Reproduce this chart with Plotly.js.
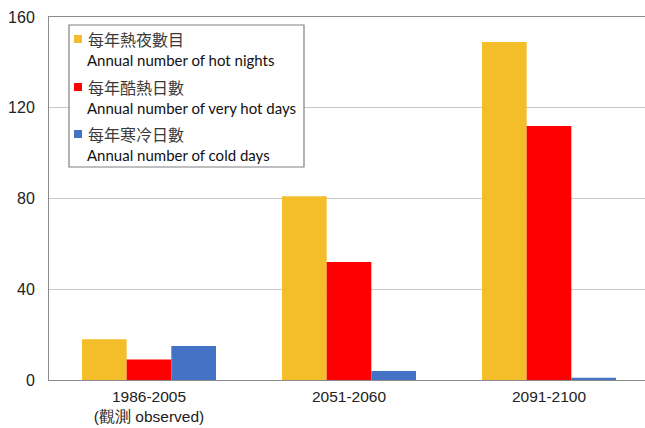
<!DOCTYPE html>
<html>
<head>
<meta charset="utf-8">
<script src="https://cdn.plot.ly/plotly-3.0.1.min.js"></script>
<style>html,body{margin:0;padding:0;background:#fff;}</style>
</head>
<body>
<div id="chart" style="width:645px;height:428px;"></div>
<script>
const categories = ["1986-2005<br>(觀測 observed)", "2051-2060", "2091-2100"];
const hotNights = [18, 81, 149];
const veryHotDays = [9, 52, 112];
const coldDays = [15, 4, 1];
const seriesZh = ["每年熱夜數目", "每年酷熱日數", "每年寒冷日數"];
const seriesEn = ["Annual number of hot nights", "Annual number of very hot days", "Annual number of cold days"];
const yTicks = [0, 40, 80, 120, 160];

const colors = ["#F4BD2A", "#FF0000", "#4472C4"];
const values = [hotNights, veryHotDays, coldDays];
const cjk = "Noto Sans CJK TC, Noto Sans CJK SC, sans-serif";

const W = 645, H = 428, ML = 49, MR = 0, MT = 17, MB = 48;
const PW = W - ML - MR, PH = H - MT - MB;
const px = v => (v - ML) / PW;          // pixel x -> paper
const py = v => (H - MB - v) / PH;      // pixel y -> paper

const traces = values.map((v, i) => ({
  type: "bar",
  x: categories,
  y: v,
  name: seriesZh[i] + " " + seriesEn[i],
  marker: {color: colors[i], line: {width: 0}},
  hoverinfo: "skip"
}));

// legend drawn as shapes + annotations
const legendBox = {x0: 69, x1: 304, y0: 25, y1: 167};
const rowTop = [39, 87, 134];
const shapes = [{
  type: "rect", xref: "paper", yref: "paper", layer: "above",
  x0: px(legendBox.x0), x1: px(legendBox.x1), y0: py(legendBox.y1), y1: py(legendBox.y0),
  fillcolor: "#fff", line: {color: "#808080", width: 1.2}
}];
const annotations = [];
seriesZh.forEach((zh, i) => {
  const cy = rowTop[i];
  shapes.push({
    type: "rect", xref: "paper", yref: "paper", layer: "above",
    x0: px(74), x1: px(82), y0: py(cy + 4), y1: py(cy - 4),
    fillcolor: colors[i], line: {width: 0}
  });
  annotations.push({
    xref: "paper", yref: "paper", x: px(86), y: py(cy), xanchor: "left", yanchor: "middle",
    text: zh, showarrow: false, font: {family: cjk, size: 16, color: "#3a3a3a"}
  });
  annotations.push({
    xref: "paper", yref: "paper", x: px(85), y: py(cy + 21), xanchor: "left", yanchor: "middle",
    text: seriesEn[i], showarrow: false, font: {family: "Lato, Open Sans, sans-serif", size: 15, color: "#111"}
  });
});

const layout = {
  width: W, height: H,
  margin: {l: ML, r: MR, t: MT, b: MB},
  paper_bgcolor: "#fff", plot_bgcolor: "#fff",
  barmode: "group",
  bargap: 0.33, bargroupgap: 0,
  showlegend: false,
  shapes: shapes,
  annotations: annotations,
  xaxis: {
    type: "category",
    range: [-0.5, 2.48],
    showgrid: false, zeroline: false,
    showline: true, linecolor: "#8c8c8c", linewidth: 1, mirror: true,
    ticks: "",
    ticklabelstandoff: 2,
    tickfont: {family: "Liberation Sans, Arial, sans-serif", size: 15.5, color: "#222"},
    fixedrange: true
  },
  yaxis: {
    range: [0, 160],
    tickvals: yTicks,
    ticktext: yTicks.map(String),
    showgrid: true, gridcolor: "#c8c8c8", gridwidth: 1,
    zeroline: false,
    showline: true, linecolor: "#8c8c8c", linewidth: 1, mirror: true,
    ticks: "",
    ticklabelstandoff: 10,
    tickfont: {family: "Liberation Sans, Arial, sans-serif", size: 16, color: "#222"},
    fixedrange: true
  }
};

Plotly.newPlot("chart", traces, layout, {displayModeBar: false, staticPlot: true});
</script>
</body>
</html>
